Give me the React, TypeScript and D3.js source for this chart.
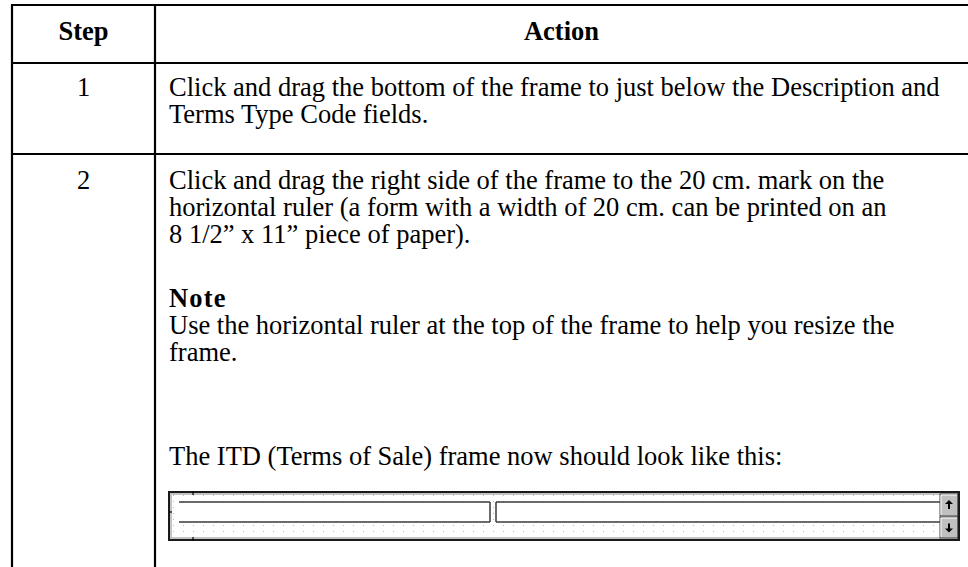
import React from "react";
import * as d3 from "d3";

// table content
const headers = ["Step", "Action"];
const steps = ["1", "2"];
const row1Lines = [
  "Click and drag the bottom of the frame to just below the Description and",
  "Terms Type Code fields.",
];
const row2Lines = [
  "Click and drag the right side of the frame to the 20 cm. mark on the",
  "horizontal ruler (a form with a width of 20 cm. can be printed on an",
  "8 1/2\u201D x 11\u201D piece of paper).",
];
const noteTitle = "Note";
const noteLines = [
  "Use the horizontal ruler at the top of the frame to help you resize the",
  "frame.",
];
const closingLine = "The ITD (Terms of Sale) frame now should look like this:";

const W = 968,
  H = 567;
const FONT = "'Liberation Serif', 'Times New Roman', serif";
const FS = 26.5;

export default function App() {
  // column edges and row edges
  const colX = { left: 12, split: 155, right: 968 };
  const rowY = [5, 63, 154];
  const textX = 169;
  const stepX = (colX.left + colX.split) / 2;
  const actionX = (colX.split + colX.right) / 2;

  const lead = 27;
  const line = (y0: number) => d3.scaleLinear().domain([0, 1]).range([y0, y0 + lead]);
  const r1 = line(96);
  const r2 = line(189);
  const rn = line(307); // Note title at 0, body lines after

  // screenshot of the frame
  const fx0 = 169,
    fx1 = 959,
    fy0 = 492,
    fy1 = 540;
  const fieldY0 = 502,
    fieldY1 = 522;
  const fields = [
    { x0: 179, x1: 490, left: false },
    { x0: 496, x1: 940, left: true },
  ];
  const btnX0 = 940,
    btnX1 = 958;

  const txt = (s: string, x: number, y: number, bold = false, anchor = "start", key?: any) => (
    <text
      key={key}
      x={x}
      y={y}
      fontFamily={FONT}
      fontSize={FS}
      fontWeight={bold ? "bold" : "normal"}
      textAnchor={anchor}
      fill="#000"
    >
      {s}
    </text>
  );

  return (
    <svg
      width={W}
      height={H}
      style={{ position: "fixed", left: 0, top: 0, background: "#fff" }}
    >
      <defs>
        <pattern id="dots" x={fx0 + 4} y={fy0 + 3} width={10} height={6} patternUnits="userSpaceOnUse">
          <rect width={10} height={6} fill="#fff" />
          <rect x={0} y={0} width={1} height={1} fill="#b8b8b8" />
        </pattern>
      </defs>

      {/* table grid */}
      {rowY.map((y, i) => (
        <line key={"h" + i} x1={colX.left - 1} x2={colX.right} y1={y} y2={y} stroke="#000" strokeWidth={2.2} />
      ))}
      <line x1={colX.left} x2={colX.left} y1={rowY[0]} y2={H} stroke="#000" strokeWidth={2.2} />
      <line x1={colX.split} x2={colX.split} y1={rowY[0]} y2={H} stroke="#000" strokeWidth={2.2} />

      {/* header */}
      {txt(headers[0], stepX, 40, true, "middle")}
      {txt(headers[1], actionX, 40, true, "middle")}

      {/* row 1 */}
      {txt(steps[0], stepX, r1(0), false, "middle")}
      {row1Lines.map((s, i) => txt(s, textX, r1(i), false, "start", "a" + i))}

      {/* row 2 */}
      {txt(steps[1], stepX, r2(0), false, "middle")}
      {row2Lines.map((s, i) => txt(s, textX, r2(i), false, "start", "b" + i))}
      <text x={textX} y={rn(0)} fontFamily={FONT} fontSize={FS} fontWeight="bold" letterSpacing={1.2}>
        {noteTitle}
      </text>
      {noteLines.map((s, i) => txt(s, textX, rn(i + 1), false, "start", "n" + i))}
      {txt(closingLine, textX, 465)}

      {/* frame picture */}
      <rect x={fx0} y={fy0} width={fx1 - fx0} height={fy1 - fy0} fill="url(#dots)" stroke="#1a1a1a" strokeWidth={2} />
      <rect
        x={fx0 + 2}
        y={fy0 + 2}
        width={fx1 - fx0 - 4}
        height={fy1 - fy0 - 4}
        fill="none"
        stroke="#c4c4c4"
        strokeWidth={2}
      />
      {fields.map((f, i) => (
        <g key={"f" + i}>
          <rect x={f.x0} y={fieldY0} width={f.x1 - f.x0} height={fieldY1 - fieldY0} fill="#fff" />
          <line x1={f.x0} x2={f.x1} y1={fieldY0} y2={fieldY0} stroke="#3a3a3a" strokeWidth={1.5} />
          <line x1={f.x0} x2={f.x1} y1={fieldY1} y2={fieldY1} stroke="#3a3a3a" strokeWidth={1.5} />
          {f.left ? (
            <line x1={f.x0} x2={f.x0} y1={fieldY0} y2={fieldY1} stroke="#3a3a3a" strokeWidth={1.5} />
          ) : (
            <line x1={f.x1} x2={f.x1} y1={fieldY0} y2={fieldY1} stroke="#3a3a3a" strokeWidth={1.5} />
          )}
        </g>
      ))}
      {/* ruler ticks */}
      <line x1={193} x2={193} y1={fy0 - 1} y2={fy0 + 3} stroke="#000" strokeWidth={1.2} />
      <line x1={193} x2={193} y1={fy1 - 3} y2={fy1 + 1} stroke="#000" strokeWidth={1.2} />
      <line x1={fx0} x2={fx0 + 3} y1={512} y2={512} stroke="#000" strokeWidth={1.2} />

      {/* scroll buttons */}
      {[
        { y0: fy0 + 2, y1: 516, up: true },
        { y0: 517, y1: fy1 - 2, up: false },
      ].map((b, i) => {
        const cx = (btnX0 + btnX1) / 2;
        const cy = (b.y0 + b.y1) / 2;
        const s = b.up ? -1 : 1;
        const tipY = cy + 5 * s;
        const baseY = cy + 1 * s;
        const tailY = cy - 4 * s;
        return (
          <g key={"b" + i}>
            <rect x={btnX0} y={b.y0} width={btnX1 - btnX0} height={b.y1 - b.y0} fill="#c0c0c0" stroke="#444" strokeWidth={1} />
            <line x1={btnX0 + 1} x2={btnX1 - 1} y1={b.y0 + 1} y2={b.y0 + 1} stroke="#fff" />
            <line x1={btnX0 + 1} x2={btnX0 + 1} y1={b.y0 + 1} y2={b.y1 - 1} stroke="#fff" />
            <path
              d={`M${cx - 4},${baseY} L${cx},${tipY} L${cx + 4},${baseY} Z M${cx - 1},${baseY} L${cx + 1},${baseY} L${cx + 1},${tailY} L${cx - 1},${tailY} Z`}
              fill="#000"
            />
          </g>
        );
      })}
      <line x1={btnX1 + 0.5} x2={btnX1 + 0.5} y1={fy0} y2={fy1} stroke="#1a1a1a" strokeWidth={1.5} />
    </svg>
  );
}
